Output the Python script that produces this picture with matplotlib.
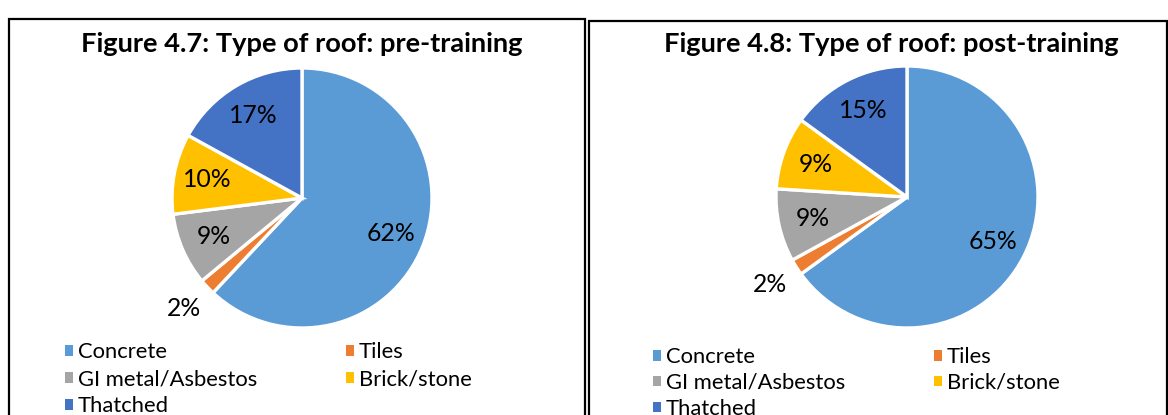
import numpy as np
import matplotlib
matplotlib.use("Agg")
import matplotlib.pyplot as plt
from matplotlib.patches import Rectangle

categories = ["Concrete", "Tiles", "GI metal/Asbestos", "Brick/stone", "Thatched"]
pre_values = [62, 2, 9, 10, 17]
post_values = [65, 2, 9, 9, 15]
titles = ["Figure 4.7: Type of roof: pre-training", "Figure 4.8: Type of roof: post-training"]
colors = ["#5B9BD5", "#ED7D31", "#A5A5A5", "#FFC000", "#4472C4"]

plt.rcParams['font.family'] = ['Lato', 'DejaVu Sans']

W, H = 1168, 415
fig = plt.figure(figsize=(W / 100, H / 100), dpi=100)

def px_rect(x0, y_top, w, h):
    return [x0 / W, 1 - (y_top + h) / H, w / W, h / H]

# panel borders (pixel geometry)
for (x0, x1, yt) in [(9, 585, 19), (589, 1167, 21)]:
    fig.add_artist(Rectangle((x0 / W, -0.05), (x1 - x0) / W, 1.05 - yt / H,
                             transform=fig.transFigure, fill=False,
                             edgecolor="black", linewidth=1.6))

panels = [
    dict(values=pre_values, title=titles[0], cx=302, cy=198, r=130, tx=302, ty=44,
         leg_x=65, leg_y=342, lsp=0.33),
    dict(values=post_values, title=titles[1], cx=907, cy=197, r=131, tx=891, ty=44,
         leg_x=653, leg_y=347, lsp=0.27),
]

LFS = 15.8

for p in panels:
    r = p["r"]
    ax = fig.add_axes(px_rect(p["cx"] - r, p["cy"] - r, 2 * r, 2 * r))
    wedges, texts, autotexts = ax.pie(
        p["values"], colors=colors, startangle=90, counterclock=False,
        autopct=lambda v: f"{v:.0f}%", pctdistance=0.74,
        wedgeprops=dict(edgecolor="white", linewidth=2.4),
        textprops=dict(fontsize=17.8, color="black"), radius=1)
    # small slice label outside
    for w, t, v in zip(wedges, autotexts, p["values"]):
        if v < 5:
            ang = np.deg2rad((w.theta1 + w.theta2) / 2)
            t.set_position((1.24 * np.cos(ang), 1.24 * np.sin(ang)))
    ax.set_xlim(-1, 1)
    ax.set_ylim(-1, 1)
    ax.set_aspect("equal")
    ax.axis("off")

    fig.text(p["tx"] / W, 1 - p["ty"] / H, p["title"], ha="center", va="center",
             fontsize=19.6, fontweight="bold")

    order = [0, 2, 4, 1, 3]
    leg = fig.legend([wedges[i] for i in order], [categories[i] for i in order],
                     ncol=2, loc="upper left",
                     bbox_to_anchor=(p["leg_x"] / W, 1 - p["leg_y"] / H),
                     frameon=False, fontsize=LFS, handlelength=0.38, handleheight=0.38,
                     handletextpad=0.2, columnspacing=4.05, labelspacing=p["lsp"],
                     borderpad=0, borderaxespad=0)
    for h in leg.legend_handles:
        h.set_edgecolor("none")

fig.savefig("out.png", dpi=100)
